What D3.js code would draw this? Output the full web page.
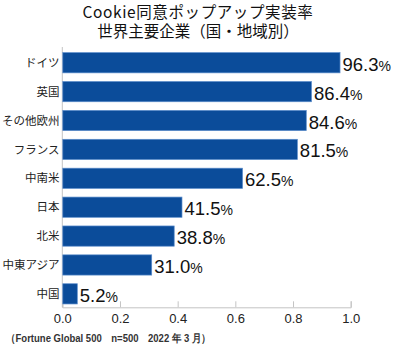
<!DOCTYPE html>
<html><head><meta charset="utf-8">
<script src="https://cdn.jsdelivr.net/npm/d3@7"></script>
<style>
body{margin:0;background:#fff;}
#wrap{position:relative;width:400px;height:346px;}
svg{display:block;position:absolute;left:0;top:0;}
#title{position:absolute;left:0;top:1.7px;width:396px;text-align:center;
  font-family:'Noto Sans CJK JP','Noto Sans CJK SC',sans-serif;font-size:15.5px;line-height:19px;color:#111;}
#title div{white-space:nowrap;}
</style>
</head><body>
<div id="wrap">
<svg id="chart" width="400" height="346"></svg>
<div id="title"></div>
</div>
<script>
const categories = ["ドイツ","英国","その他欧州","フランス","中南米","日本","北米","中東アジア","中国"];
const values = [0.963,0.864,0.846,0.815,0.625,0.415,0.388,0.310,0.052];
const tickValues = [0,0.2,0.4,0.6,0.8,1.0];
const titleLines = ["Cookie同意ポップアップ実装率","世界主要企業（国・地域別）"];
const footnote = "（Fortune Global 500　n=500　2022 年 3 月）";

const svg = d3.select("#chart");
const cjk = "'Noto Sans CJK JP','Noto Sans CJK SC',sans-serif";
const narrow = "'Liberation Sans Narrow','Arial Narrow','Liberation Sans',sans-serif";

const x = d3.scaleLinear().domain([0,1]).range([62.3,350.7]);
const y = d3.scaleBand().domain(categories).range([48.3,308.3]).paddingInner(0.3).paddingOuter(0.15);

// title
d3.select("#title").selectAll("div").data(titleLines).join("div")
  .style("letter-spacing",(d,i)=>i===0?"0.6px":"0px")
  .text(d=>d);

// x axis
const axisG = svg.append("g").attr("transform","translate(0,307.3)");
const xAxis = d3.axisBottom(x).tickValues(tickValues).tickFormat(d3.format(".1f")).tickSize(-6).tickPadding(6);
axisG.call(xAxis);
axisG.select(".domain").attr("stroke","#c4c4c4");
axisG.selectAll(".tick line").attr("stroke","#c4c4c4");
axisG.selectAll(".tick text").style("font-family",narrow).style("font-size","13px").attr("fill","#222");

// y axis line
svg.append("line").attr("x1",x(0)).attr("x2",x(0)).attr("y1",47).attr("y2",307.3)
  .attr("stroke","#c4c4c4");

// bars
svg.selectAll("rect.bar").data(values).join("rect")
  .attr("class","bar")
  .attr("x",x(0)+0.5)
  .attr("y",(d,i)=>y(categories[i]))
  .attr("width",d=>x(d)-x(0)-0.5)
  .attr("height",y.bandwidth())
  .attr("fill","#0b4c9a")
  .attr("stroke","#5a8ccb").attr("stroke-width",0.7);

// category labels
svg.selectAll("text.cat").data(categories).join("text")
  .attr("class","cat")
  .attr("x",59.5).attr("y",d=>y(d)+y.bandwidth()/2)
  .attr("dy","0.36em").attr("text-anchor","end")
  .style("font-family",cjk).style("font-size","11.5px").attr("fill","#222")
  .text(d=>d);

// value labels
const vl = svg.selectAll("text.val").data(values).join("text")
  .attr("class","val")
  .attr("x",d=>x(d)+2.5).attr("y",(d,i)=>y(categories[i])+y.bandwidth()/2+8)
  .style("font-family","'Liberation Sans',Arial,sans-serif").attr("fill","#111");
vl.append("tspan").style("font-size","18.5px").text(d=>(d*100).toFixed(1));
vl.append("tspan").style("font-size","14px").text("%");

// footnote
svg.append("text").attr("x",6).attr("y",342)
  .attr("textLength",205).attr("lengthAdjust","spacingAndGlyphs")
  .style("font-family",narrow).style("font-size","11px").style("font-weight","bold").attr("fill","#333")
  .text(footnote);
</script>
</body></html>
